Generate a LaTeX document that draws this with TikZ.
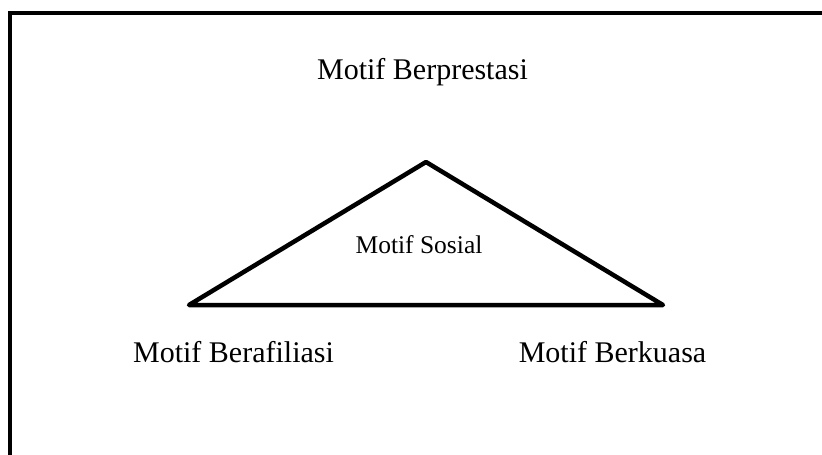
\documentclass[tikz,border=0pt]{standalone}
\usepackage{fontspec}
\setmainfont{Liberation Serif}
\tikzset{
  frameline/.style={line width=4.5pt, line join=miter},
  triline/.style={line width=4.5pt, line join=round, line cap=round},
  bigtext/.style={anchor=base, inner sep=0pt, font=\fontsize{30}{36}\selectfont},
  smalltext/.style={anchor=base, inner sep=0pt, font=\fontsize{25.5}{30}\selectfont},
}
\begin{document}
\begin{tikzpicture}[x=1pt, y=-1pt]
  \useasboundingbox (0,0) rectangle (822,455);
  \clip (0,0) rectangle (822,455);
  % outer frame (open towards the right and bottom edges)
  \draw[frameline] (10,470) -- (10,13) -- (840,13);
  % triangle corners
  \coordinate (apex) at (426,162);
  \coordinate (lbase) at (189,305);
  \coordinate (rbase) at (663,305);
  \draw[triline] (apex) -- (rbase) -- (lbase) -- cycle;
  % labels
  \node[bigtext] (prestasi) at (422.5,79) {Motif Berprestasi};
  \node[smalltext] (sosial) at (419,253) {Motif Sosial};
  \node[bigtext] (afiliasi) at (233.5,362) {Motif Berafiliasi};
  \node[bigtext] (kuasa) at (612.5,362) {Motif Berkuasa};
\end{tikzpicture}
\end{document}
